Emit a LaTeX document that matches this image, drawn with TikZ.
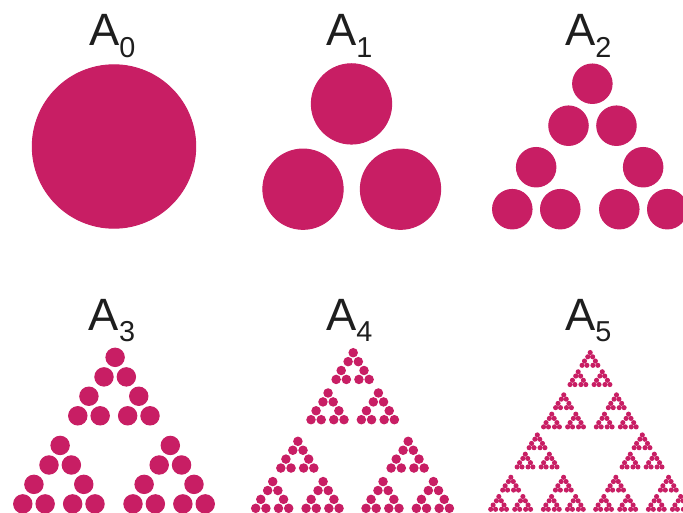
\documentclass[tikz,border=0pt]{standalone}
\usepackage{fontspec}
\setmainfont{Liberation Sans}
\definecolor{pk}{RGB}{200,30,100}
\definecolor{ink}{RGB}{30,30,30}
% one scaled copy of a smaller stage, placed at (#1,#2) in pixel units
\newcommand\cpy[4]{\begin{scope}[shift={(#1,#2)},scale=#3]#4\end{scope}}
% stage macros: origin = centre of the bottom-left circle
\newcommand\Pzero{\filldraw[pk,line width=1pt] (0,0) circle (81.7pt);}
\newcommand\Pone{\cpy{0}{0}{0.4915}{\Pzero}\cpy{97.5}{0}{0.4915}{\Pzero}\cpy{48.5}{-85.3}{0.4915}{\Pzero}}
\newcommand\Ptwo{\cpy{0}{0}{0.492}{\Pone}\cpy{107}{0}{0.492}{\Pone}\cpy{56.2}{-83.5}{0.492}{\Pone}}
\newcommand\Pthree{\cpy{0}{0}{0.466}{\Ptwo}\cpy{110.2}{0}{0.466}{\Ptwo}\cpy{55.0}{-88.1}{0.466}{\Ptwo}}
\newcommand\Pfour{\cpy{0}{0}{0.457}{\Pthree}\cpy{110.3}{0}{0.457}{\Pthree}\cpy{55.3}{-88.6}{0.457}{\Pthree}}
\newcommand\Pfive{\cpy{0}{0}{0.478}{\Pfour}\cpy{105}{0}{0.478}{\Pfour}\cpy{52.9}{-82.4}{0.478}{\Pfour}}
\newcommand\sub[1]{\raisebox{-11.4pt}{\fontsize{28.8}{29}\selectfont #1}}
\begin{document}
\begin{tikzpicture}[x=1pt,y=-1pt,
  lab/.style={anchor=base west,inner sep=0pt,text=ink,font=\fontsize{45.3}{46}\selectfont}]
\useasboundingbox (0,0) rectangle (683,513);
\clip (0,0) rectangle (683,513);
% fractal stages
\cpy{114}{146.5}{1}{\Pzero}
\cpy{303}{189.2}{1}{\Pone}
\cpy{512.3}{209.2}{1}{\Ptwo}
\cpy{22.8}{503.9}{1}{\Pthree}
\cpy{255.7}{508.3}{1}{\Pfour}
\cpy{490.7}{509.3}{1}{\Pfive}
% labels
\node[lab] (l0) at (89,45.7) {A\sub{0}};
\node[lab] (l1) at (326,45.7) {A\sub{1}};
\node[lab] (l2) at (565,45.7) {A\sub{2}};
\node[lab] (l3) at (88.7,330) {A\sub{3}};
\node[lab] (l4) at (326,330) {A\sub{4}};
\node[lab] (l5) at (565,330) {A\sub{5}};
\end{tikzpicture}
\end{document}
